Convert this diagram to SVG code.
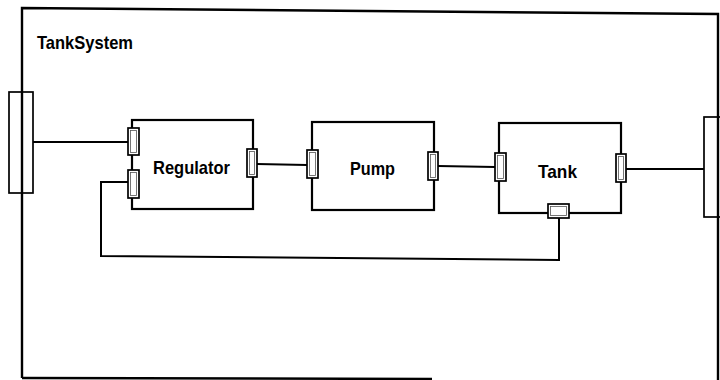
<svg xmlns="http://www.w3.org/2000/svg" width="720" height="380" viewBox="0 0 720 380">
<style>
.box{fill:#fff;stroke:#000;stroke-width:2.2}
.port{fill:#fff;stroke:#000;stroke-width:1.7}
.pin{fill:none;stroke:#555;stroke-width:0.8}
.wire{fill:none;stroke:#000;stroke-width:2}
.frame{fill:none;stroke:#000;stroke-width:2.4}
text{font-family:"Liberation Sans",Arial,sans-serif;font-weight:bold;font-size:19px;fill:#000}
</style>
<rect width="720" height="380" fill="#fff"/>
<g id="TankSystem">
<path class="frame" d="M22,378 L22,8 L718,14 L718,380"/>
<path class="frame" d="M22,378 L432,379"/>
<text x="37" y="49" textLength="96" lengthAdjust="spacingAndGlyphs">TankSystem</text>
</g>
<g id="connectors">
<path class="wire" d="M33,142 L128,142"/>
<path class="wire" d="M257,164 L307,165"/>
<path class="wire" d="M438,166 L495,167"/>
<path class="wire" d="M626,169 L704,169"/>
<path class="wire" d="M559,218 L559,260 L101,256 L101,182 L128,182"/>
</g>
<g id="Regulator">
<rect class="box" x="132" y="120" width="121" height="89"/>
<text x="153" y="174" textLength="77" lengthAdjust="spacingAndGlyphs">Regulator</text>
<rect class="port" x="128" y="128" width="11" height="27"/>
<rect class="pin" x="130.5" y="130.5" width="6" height="22"/>
<rect class="port" x="128" y="170" width="11" height="28"/>
<rect class="pin" x="130.5" y="172.5" width="6" height="23"/>
<rect class="port" x="247" y="149" width="10" height="28"/>
<rect class="pin" x="249.5" y="151.5" width="5" height="23"/>
</g>
<g id="Pump">
<rect class="box" x="312" y="122" width="122" height="88"/>
<text x="350" y="175" textLength="45" lengthAdjust="spacingAndGlyphs">Pump</text>
<rect class="port" x="307" y="150" width="11" height="28"/>
<rect class="pin" x="309.5" y="152.5" width="6" height="23"/>
<rect class="port" x="428" y="152" width="10" height="28"/>
<rect class="pin" x="430.5" y="154.5" width="5" height="23"/>
</g>
<g id="Tank">
<rect class="box" x="499" y="123" width="122" height="90"/>
<text x="538" y="178" textLength="39" lengthAdjust="spacingAndGlyphs">Tank</text>
<rect class="port" x="495" y="153" width="11" height="28"/>
<rect class="pin" x="497.5" y="155.5" width="6" height="23"/>
<rect class="port" x="616" y="154" width="10" height="28"/>
<rect class="pin" x="618.5" y="156.5" width="5" height="23"/>
<rect class="port" x="548" y="204" width="21" height="14"/>
<rect class="pin" x="550.5" y="206.5" width="16" height="9"/>
</g>
<g id="InPort">
<rect class="port" x="9" y="92" width="24" height="101"/>
<path class="frame" d="M22,92 L22,193"/>
</g>
<g id="OutPort">
<rect class="port" x="704" y="117" width="20" height="100"/>
<path class="frame" d="M718,117 L718,217"/>
</g>
</svg>
